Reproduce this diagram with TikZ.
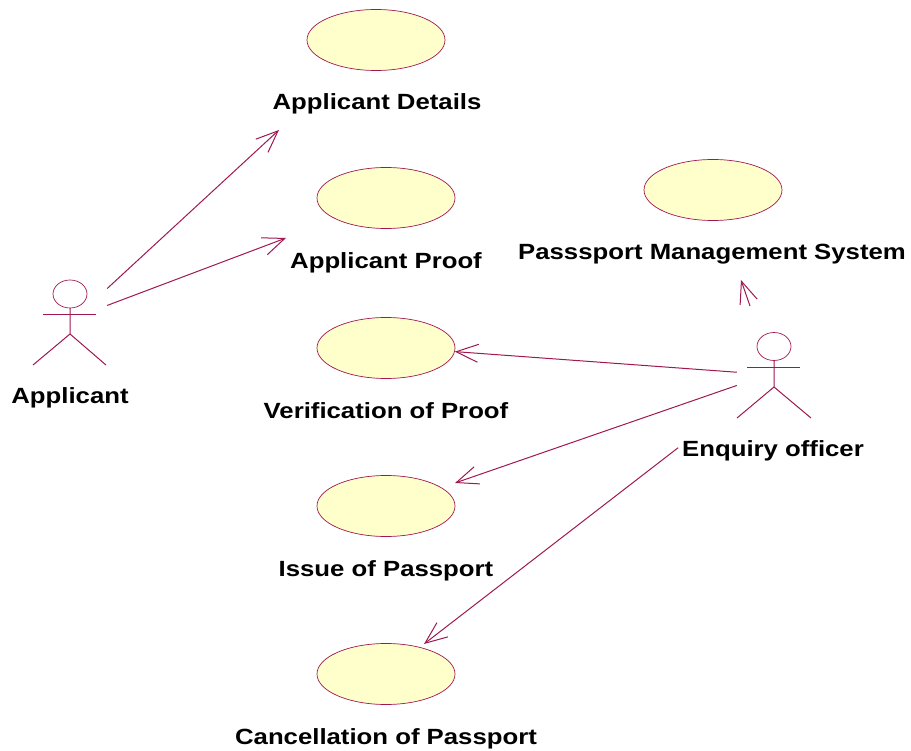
\documentclass[tikz,border=0pt]{standalone}
\usepackage{fontspec}
\setmainfont[FakeStretch=1.17]{Liberation Sans}
\usetikzlibrary{arrows.meta,shapes.geometric}
\definecolor{umlline}{HTML}{A01850}
\definecolor{umlfill}{HTML}{FFFFCC}
\tikzset{usecase/.style={
            draw=umlline,
            fill=umlfill,
            ellipse,
            line width=0.7pt,
            inner sep=0pt,
            minimum width=138pt,
            minimum height=61pt
        },
        actorbox/.style={
            inner sep=0pt,
            minimum width=74pt,
            minimum height=86pt
        },
        stick/.style={
            umlline,
            line width=1pt
        },
        assoc/.style={
            umlline,
            line width=1pt,
            -{Straight Barb[length=22pt,width=18pt,line width=1pt]}
        },
        caption/.style={
            font=\fontsize{22}{24}\selectfont\bfseries,
            inner sep=0pt
        }
    }

\begin{document}
\begin{tikzpicture}[x=1pt,y=-1pt]
        \useasboundingbox (0,0) rectangle (911,751);
        % use cases
        \node[usecase] at (376,40) (details) {};
        \node[usecase] at (386,198) (proof) {};
        \node[usecase] at (386,348) (verification) {};
        \node[usecase] at (386,506) (issue) {};
        \node[usecase] at (386,674) (cancellation) {};
        \node[usecase] at (713,190) (system) {};
        \node[caption] at (377,104) (detailslabel) {Applicant Details};
        \node[caption] at (386,263) (prooflabel) {Applicant Proof};
        \node[caption] at (386,411) (verificationlabel) {Verification of Proof};
        \node[caption] at (386,571) (issuelabel) {Issue of Passport};
        \node[caption] at (386,739) (cancellationlabel) {Cancellation of Passport};
        \node[caption] at (712,254) (systemlabel) {Passsport Management System};
        % actors
        \node[actorbox] at (70,322) (applicant) {};
        \node[actorbox] at (774,375.5) (officer) {};
        \node[caption] at (70,398) (applicantlabel) {Applicant};
        \node[caption,outer sep=4pt] at (773,451) (officerlabel) {Enquiry officer};
        \draw[stick,line width=0.7pt] (70,294) ellipse (17 and 14);
        \draw[stick] (43,314.5) -- (96,314.5);
        \draw[stick] (70,308) -- (70,334) -- (33,365);
        \draw[stick] (70,334) -- (106,365);
        \draw[stick,line width=0.7pt] (774,346.5) ellipse (17 and 14);
        \draw[stick] (747,367.5) -- (800,367.5);
        \draw[stick] (774,360) -- (774,387) -- (737,418);
        \draw[stick] (774,387) -- (811,418);
        % free ends
        \coordinate (detailsend) at (279,130);
        \coordinate (proofend) at (286,238);
        \coordinate (issueend) at (455,483);
        \coordinate (cancellationend) at (424,644);
        \coordinate (systemstart) at (750,306);
        \coordinate (systemend) at (741,280);
        % associations
        \draw[assoc] (applicant.42.6) -- (detailsend);
        \draw[assoc] (applicant.24) -- (proofend);
        \draw[assoc] (officer.175) -- (verification.-3);
        \draw[assoc] (officer.195) -- (issueend);
        \draw[assoc] (officerlabel.178.5) -- (cancellationend);
        \draw[assoc] (systemstart) -- (systemend);
    \end{tikzpicture}
\end{document}
